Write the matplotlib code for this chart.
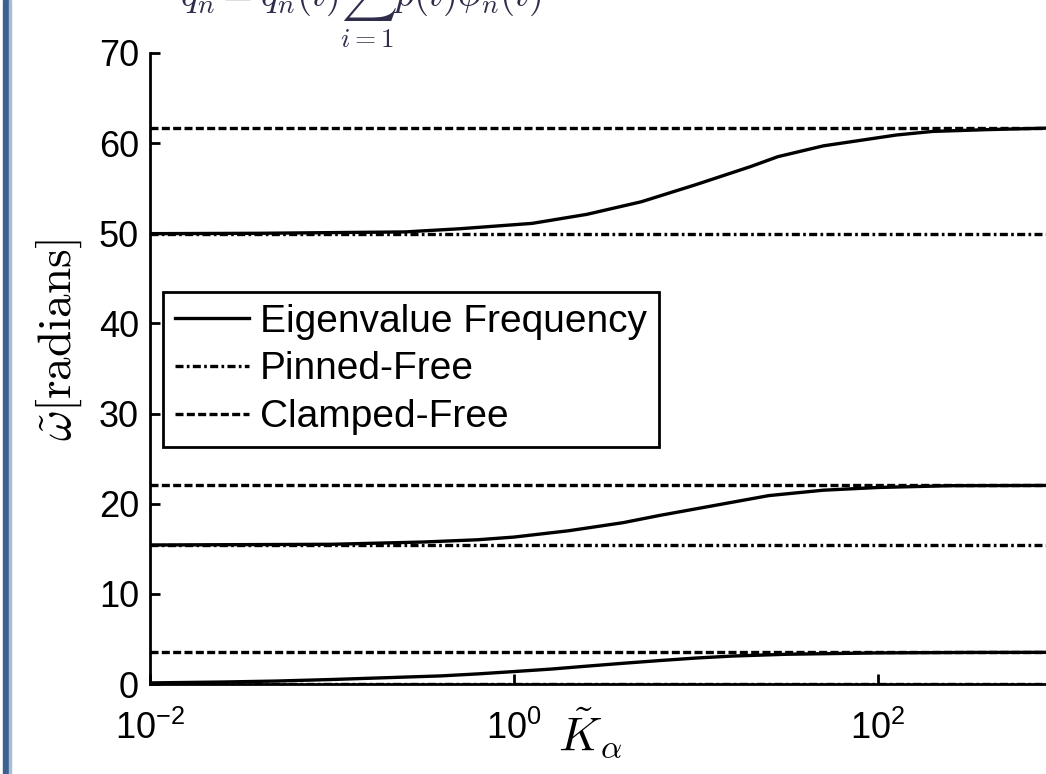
import matplotlib

matplotlib.use("Agg")
import matplotlib.pyplot as plt  # noqa: E402
import numpy as np  # noqa: E402
from matplotlib.patches import Rectangle  # noqa: E402

# ----------------------------------------------------------------------------
# Data (K in log10 units, omega in radians)
# ----------------------------------------------------------------------------
MODE1_LOGK = [-2.0, -1.6, -1.3, -1.0, -0.7, -0.4, -0.2, 0.0, 0.2, 0.4, 0.6, 0.8,
              1.0, 1.2, 1.5, 2.0, 2.5, 3.0]
MODE1_W = [0.12, 0.22, 0.33, 0.5, 0.7, 0.9, 1.12, 1.38, 1.65, 1.98, 2.3, 2.6,
           2.88, 3.1, 3.3, 3.45, 3.5, 3.516]

MODE2_LOGK = [-2.0, -1.0, -0.5, -0.2, 0.0, 0.3, 0.6, 0.8, 1.1, 1.4, 1.7, 2.0,
              2.4, 3.0]
MODE2_W = [15.42, 15.5, 15.75, 16.0, 16.3, 17.0, 17.9, 18.7, 19.8, 20.9, 21.5,
           21.8, 22.0, 22.03]

MODE3_LOGK = [-2.0, -1.4, -0.6, -0.3, 0.1, 0.4, 0.7, 1.0, 1.3, 1.45, 1.7, 2.1,
              2.3, 2.6, 3.0]
MODE3_W = [49.96, 50.0, 50.15, 50.5, 51.1, 52.1, 53.5, 55.4, 57.4, 58.5, 59.7,
           60.9, 61.3, 61.5, 61.7]

PINNED_FREE = [0.0, 15.42, 49.96]
CLAMPED_FREE = [3.516, 22.03, 61.70]

K_MIN, K_MAX = 1e-2, 1e3
Y_TICKS = [0, 10, 20, 30, 40, 50, 60, 70]
X_TICKS = [1e-2, 1e0, 1e2]

# ----------------------------------------------------------------------------
# Figure
# ----------------------------------------------------------------------------
plt.rcParams["axes.unicode_minus"] = False
plt.rcParams["font.family"] = ["Liberation Sans", "DejaVu Sans"]

W, H = 1046, 774
fig = plt.figure(figsize=(W / 100, H / 100), dpi=100)
ax = fig.add_axes([150 / W, 90 / H, 910 / W, 631 / H])

LW = 2.4
DASHED = (0, (2.4, 1.0))
DASHDOT = (0, (2.4, 1.0, 0.8, 1.0))

for logk, w in [(MODE1_LOGK, MODE1_W), (MODE2_LOGK, MODE2_W), (MODE3_LOGK, MODE3_W)]:
    ax.plot(10 ** np.asarray(logk), w, color="black", lw=LW, ls="-",
            label="Eigenvalue Frequency" if w is MODE1_W else None)

for i, val in enumerate(PINNED_FREE):
    ax.plot([K_MIN, K_MAX], [val, val], color="black", lw=LW, ls=DASHDOT,
            label="Pinned-Free" if i == 0 else None)
for i, val in enumerate(CLAMPED_FREE):
    ax.plot([K_MIN, K_MAX], [val, val], color="black", lw=LW, ls=DASHED,
            label="Clamped-Free" if i == 0 else None)

ax.set_xscale("log")
ax.set_xlim(K_MIN, K_MAX)
ax.set_ylim(0, 70)
ax.set_xticks(X_TICKS)
ax.set_xticklabels([r"$\mathdefault{10^{%d}}$" % int(np.log10(t)) for t in X_TICKS])
ax.xaxis.set_minor_locator(matplotlib.ticker.NullLocator())
ax.set_yticks(Y_TICKS)

for side in ("top", "right"):
    ax.spines[side].set_visible(False)
for side in ("left", "bottom"):
    ax.spines[side].set_linewidth(2.0)
ax.tick_params(direction="in", length=7, width=2.0, labelsize=26,
               top=False, right=False)
ax.tick_params(axis="y", pad=8)
ax.tick_params(axis="x", pad=19)

ax.set_xlabel(r"$\tilde{K}_{\alpha}$", fontsize=34, math_fontfamily="cm")
ax.xaxis.set_label_coords(0.4835, -0.035)
ax.set_ylabel(r"$\tilde{\omega}[\mathrm{radians}]$", fontsize=34,
              math_fontfamily="cm", va="center")
ax.yaxis.set_label_coords(-0.1, 0.545)

leg = ax.legend(loc="upper left", bbox_to_anchor=(0.0143, 0.621), borderaxespad=0,
                fontsize=28, fancybox=False, framealpha=1, edgecolor="black",
                handlelength=1.9, handletextpad=0.3, labelspacing=0.3,
                borderpad=0.3)
leg.get_frame().set_linewidth(2.0)

# cropped equation line from the page above the figure
fig.text(180 / W, 1.008, r"$q_n = q_n(t)\sum_{i=1}^{N} p(t)\phi_n(t)$", fontsize=28,
         color="#2e2e4a", math_fontfamily="cm", va="center", ha="left")

# page border on the left edge
fig.patches.append(Rectangle((3 / W, 0), 5.5 / W, 1, transform=fig.transFigure,
                             color="#3e6090", zorder=5))
fig.patches.append(Rectangle((8.5 / W, 0), 2 / W, 1, transform=fig.transFigure,
                             color="#a9bcd6", zorder=5))

fig.savefig("out.png", dpi=100)
